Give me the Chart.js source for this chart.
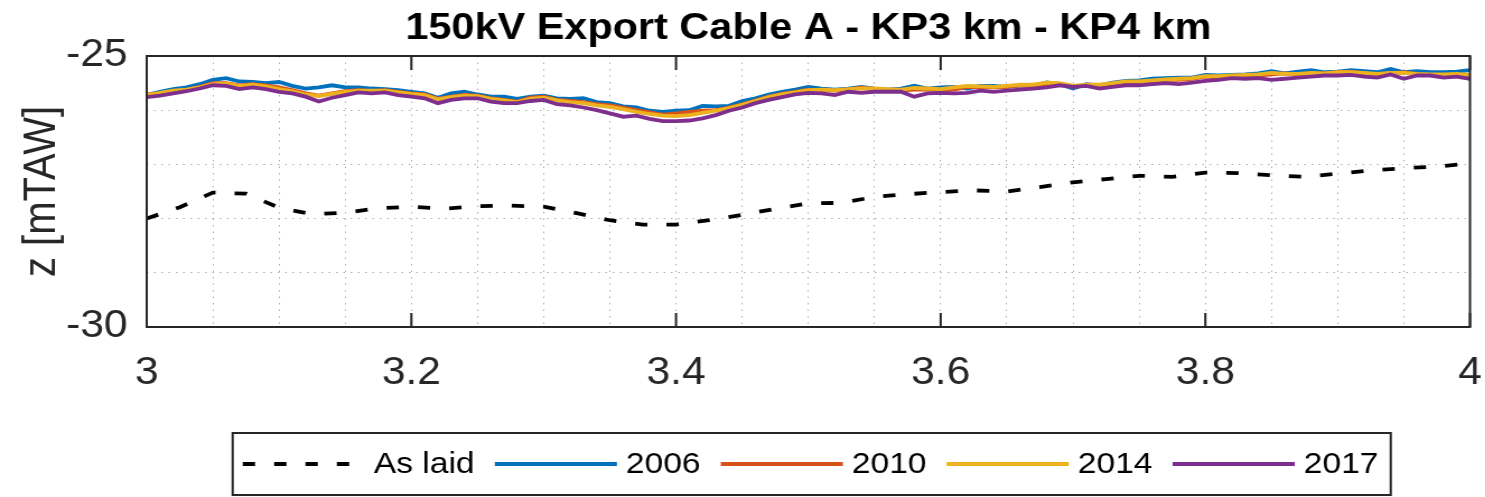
<!DOCTYPE html>
<html>
<head>
<meta charset="utf-8">
<title>150kV Export Cable A - KP3 km - KP4 km</title>
<script src="https://cdn.jsdelivr.net/npm/chart.js@4.4.1/dist/chart.umd.min.js"></script>
<style>
  html, body { margin: 0; padding: 0; background: #fff; overflow: hidden; }
  /* figure is drawn 1326 wide and widened to the 1485 window, like the exported figure */
  #plot { position: relative; width: 1326px; height: 497px; transform: scaleX(1.12); transform-origin: 0 0; }
</style>
</head>
<body>
<div id="plot"><canvas id="profile"></canvas></div>
<script>
const FONT = '"Liberation Sans", Arial, Helvetica, sans-serif';

// KP sampling of the surveys (every 10 m) and of the as-laid profile (every 25 m)
const kmSurvey = Array.from({ length: 101 }, (_, i) => +(3 + i * 0.01).toFixed(2));
const kmAsLaid = Array.from({ length: 41 }, (_, i) => +(3 + i * 0.025).toFixed(3));

const xMajor = [3, 3.2, 3.4, 3.6, 3.8, 4];
const xMajorLabels = ["3", "3.2", "3.4", "3.6", "3.8", "4"];
const yLabelled = [-25, -30];
const yLabels = ["-25", "-30"];

const asLaid = [
  -28.00, -27.79, -27.52, -27.54, -27.80, -27.92, -27.89, -27.81, -27.78, -27.82,
  -27.77, -27.76, -27.78, -27.90, -28.03, -28.11, -28.11, -28.03, -27.93, -27.82,
  -27.72, -27.71, -27.60, -27.55, -27.51, -27.48, -27.50, -27.42, -27.33, -27.27,
  -27.21, -27.23, -27.15, -27.16, -27.20, -27.23, -27.17, -27.11, -27.07, -27.04,
  -26.98
];

const z2006 = [
  -25.72, -25.66, -25.61, -25.58, -25.52, -25.44, -25.41, -25.47, -25.48, -25.50,
  -25.48, -25.55, -25.60, -25.58, -25.54, -25.58, -25.58, -25.60, -25.61, -25.63,
  -25.66, -25.69, -25.77, -25.69, -25.66, -25.71, -25.75, -25.75, -25.79, -25.75,
  -25.73, -25.78, -25.79, -25.78, -25.85, -25.87, -25.93, -25.95, -26.01, -26.03,
  -26.01, -26.00, -25.92, -25.93, -25.92, -25.83, -25.78, -25.71, -25.66, -25.62,
  -25.57, -25.60, -25.62, -25.60, -25.57, -25.60, -25.62, -25.60, -25.55, -25.60,
  -25.58, -25.57, -25.60, -25.55, -25.55, -25.57, -25.54, -25.55, -25.49, -25.52,
  -25.60, -25.52, -25.54, -25.49, -25.46, -25.45, -25.42, -25.41, -25.40, -25.40,
  -25.35, -25.36, -25.35, -25.34, -25.32, -25.28, -25.32, -25.29, -25.26, -25.30,
  -25.29, -25.26, -25.28, -25.30, -25.24, -25.30, -25.28, -25.30, -25.30, -25.29,
  -25.26
];

const z2010 = [
  -25.71, -25.69, -25.65, -25.63, -25.57, -25.50, -25.50, -25.54, -25.52, -25.54,
  -25.58, -25.63, -25.69, -25.73, -25.69, -25.65, -25.63, -25.65, -25.63, -25.66,
  -25.69, -25.71, -25.79, -25.75, -25.72, -25.73, -25.78, -25.81, -25.84, -25.77,
  -25.75, -25.81, -25.83, -25.85, -25.89, -25.91, -25.95, -26.00, -26.04, -26.08,
  -26.06, -26.03, -26.01, -26.00, -25.95, -25.89, -25.82, -25.75, -25.70, -25.66,
  -25.62, -25.63, -25.64, -25.62, -25.58, -25.62, -25.63, -25.64, -25.62, -25.62,
  -25.63, -25.62, -25.57, -25.58, -25.58, -25.57, -25.54, -25.55, -25.52, -25.52,
  -25.57, -25.54, -25.55, -25.52, -25.49, -25.48, -25.46, -25.44, -25.44, -25.42,
  -25.38, -25.40, -25.38, -25.36, -25.36, -25.34, -25.32, -25.34, -25.32, -25.32,
  -25.30, -25.29, -25.32, -25.34, -25.32, -25.30, -25.34, -25.35, -25.36, -25.35,
  -25.36
];

const z2014 = [
  -25.72, -25.68, -25.64, -25.62, -25.58, -25.52, -25.51, -25.55, -25.53, -25.56,
  -25.61, -25.65, -25.71, -25.74, -25.70, -25.66, -25.64, -25.64, -25.64, -25.67,
  -25.70, -25.72, -25.80, -25.76, -25.73, -25.74, -25.79, -25.82, -25.85, -25.79,
  -25.77, -25.82, -25.85, -25.87, -25.91, -25.94, -25.98, -26.03, -26.07, -26.10,
  -26.11, -26.09, -26.05, -26.01, -25.96, -25.90, -25.83, -25.76, -25.71, -25.67,
  -25.63, -25.62, -25.63, -25.61, -25.60, -25.60, -25.61, -25.62, -25.59, -25.60,
  -25.61, -25.58, -25.55, -25.56, -25.57, -25.55, -25.53, -25.53, -25.49, -25.50,
  -25.55, -25.53, -25.53, -25.50, -25.47, -25.47, -25.45, -25.43, -25.42, -25.41,
  -25.37, -25.37, -25.36, -25.35, -25.34, -25.31, -25.33, -25.33, -25.31, -25.32,
  -25.30, -25.30, -25.31, -25.33, -25.31, -25.31, -25.33, -25.34, -25.34, -25.33,
  -25.35
];

const z2017 = [
  -25.76, -25.73, -25.69, -25.65, -25.60, -25.54, -25.55, -25.61, -25.58, -25.61,
  -25.66, -25.69, -25.75, -25.84, -25.77, -25.72, -25.67, -25.69, -25.67, -25.72,
  -25.75, -25.78, -25.87, -25.81, -25.78, -25.78, -25.84, -25.87, -25.87, -25.83,
  -25.81, -25.89, -25.91, -25.95, -26.00, -26.06, -26.12, -26.10, -26.16, -26.20,
  -26.20, -26.19, -26.15, -26.09, -26.01, -25.95, -25.87, -25.81, -25.76, -25.71,
  -25.68, -25.69, -25.72, -25.66, -25.68, -25.66, -25.66, -25.66, -25.75, -25.69,
  -25.68, -25.69, -25.68, -25.64, -25.66, -25.64, -25.62, -25.60, -25.58, -25.54,
  -25.57, -25.55, -25.60, -25.57, -25.54, -25.54, -25.52, -25.50, -25.52, -25.49,
  -25.46, -25.44, -25.41, -25.42, -25.41, -25.44, -25.42, -25.40, -25.38, -25.36,
  -25.36, -25.35, -25.38, -25.40, -25.34, -25.42, -25.36, -25.36, -25.40, -25.38,
  -25.42
];

const toPoints = (xs, ys) => xs.map((x, i) => ({ x: x, y: ys[i] }));

// later surveys sit on top (lower order = drawn last)
const survey = (label, ys, color, order) => ({
  label: label,
  data: toPoints(kmSurvey, ys),
  borderColor: color,
  backgroundColor: color,
  borderWidth: 3.8,
  pointRadius: 0,
  tension: 0,
  order: order,
});

// full box around the axes plus the inward major ticks
const axesBox = {
  id: "axesBox",
  afterDatasetsDraw(chart) {
    const { ctx, chartArea: a } = chart;
    const x = chart.scales.x;
    ctx.save();
    ctx.strokeStyle = "#262626";
    ctx.lineWidth = 2;
    ctx.strokeRect(a.left, a.top, a.right - a.left, a.bottom - a.top);
    ctx.beginPath();
    xMajor.forEach((v) => {
      const px = x.getPixelForValue(v);
      ctx.moveTo(px, a.top);
      ctx.lineTo(px, a.top + 14);
      ctx.moveTo(px, a.bottom);
      ctx.lineTo(px, a.bottom - 14);
    });
    ctx.stroke();
    ctx.restore();
  },
};

// framed one-row legend under the axis
const boxLegend = {
  id: "boxLegend",
  afterDraw(chart) {
    const ctx = chart.ctx;
    const a = chart.chartArea;
    const sampleLen = 109, textGap = 8, itemGap = 18, padL = 9, padR = 11;
    ctx.save();
    ctx.font = "30px " + FONT;
    const items = chart.data.datasets.map((ds) => ({ ds: ds, w: ctx.measureText(ds.label).width }));
    const total = padL + padR + itemGap * (items.length - 1) +
      items.reduce((s, it) => s + sampleLen + textGap + it.w, 0);
    const left = (a.left + a.right) / 2 + 3 - total / 2;
    const top = 433, height = 62, mid = top + height / 2;

    ctx.strokeStyle = "#262626";
    ctx.lineWidth = 2;
    ctx.strokeRect(left, top, total, height);

    let x = left + padL;
    items.forEach(({ ds, w }) => {
      ctx.beginPath();
      ctx.setLineDash(ds.borderDash || []);
      ctx.strokeStyle = ds.borderColor;
      ctx.lineWidth = ds.borderWidth;
      ctx.moveTo(x, mid);
      ctx.lineTo(x + sampleLen, mid);
      ctx.stroke();
      ctx.setLineDash([]);
      x += sampleLen + textGap;
      ctx.fillStyle = "#000";
      ctx.textBaseline = "middle";
      ctx.textAlign = "left";
      ctx.fillText(ds.label, x, mid + 1);
      x += w + itemGap;
    });
    ctx.restore();
  },
};

const pickLabel = (marks, labels) => (v) => {
  const i = marks.findIndex((m) => Math.abs(m - v) < 1e-6);
  return i < 0 ? "" : labels[i];
};

const dotted = { display: false, dash: [1.5, 5] };
const gridStyle = { color: "rgba(0,0,0,0.32)", lineWidth: 1, drawTicks: false };

new Chart(document.getElementById("profile"), {
  type: "line",
  data: {
    datasets: [
      {
        label: "As laid",
        data: toPoints(kmAsLaid, asLaid),
        borderColor: "#000000",
        backgroundColor: "#000000",
        borderWidth: 3.8,
        borderDash: [11, 17],
        pointRadius: 0,
        tension: 0,
        order: 4,
      },
      survey("2006", z2006, "#0072BD", 3),
      survey("2010", z2010, "#D95319", 2),
      survey("2014", z2014, "#EDB120", 1),
      survey("2017", z2017, "#7E2F8E", 0),
    ],
  },
  options: {
    responsive: true,
    maintainAspectRatio: false,
    animation: false,
    events: [],
    layout: { padding: { left: 0, right: 13.5, top: 0, bottom: 0 } },
    scales: {
      x: {
        type: "linear",
        min: 3,
        max: 4,
        grid: gridStyle,
        border: dotted,
        ticks: {
          stepSize: 0.05,
          autoSkip: false,
          maxRotation: 0,
          padding: 23.6,
          color: "#262626",
          font: { family: FONT, size: 38 },
          callback: pickLabel(xMajor, xMajorLabels),
        },
        afterFit(scale) {
          scale.height = 170;
          scale.paddingLeft = 0;
          scale.paddingRight = 0;
        },
      },
      y: {
        min: -30,
        max: -25,
        grid: gridStyle,
        border: dotted,
        ticks: {
          stepSize: 1,
          padding: 17,
          color: "#262626",
          font: { family: FONT, size: 38 },
          callback: pickLabel(yLabelled, yLabels),
        },
        title: {
          display: true,
          text: "z [mTAW]",
          color: "#262626",
          font: { family: FONT, size: 40 },
          padding: { top: 13.5, bottom: 0 },
        },
        afterFit(scale) {
          scale.width = 131;
        },
      },
    },
    plugins: {
      legend: { display: false },
      tooltip: { enabled: false },
      title: {
        display: true,
        fullSize: false,
        text: "150kV Export Cable A - KP3 km - KP4 km",
        color: "#000",
        font: { family: FONT, size: 37, weight: "bold" },
        padding: { top: 7, bottom: 4.6 },
      },
    },
  },
  plugins: [axesBox, boxLegend],
});
</script>
</body>
</html>
